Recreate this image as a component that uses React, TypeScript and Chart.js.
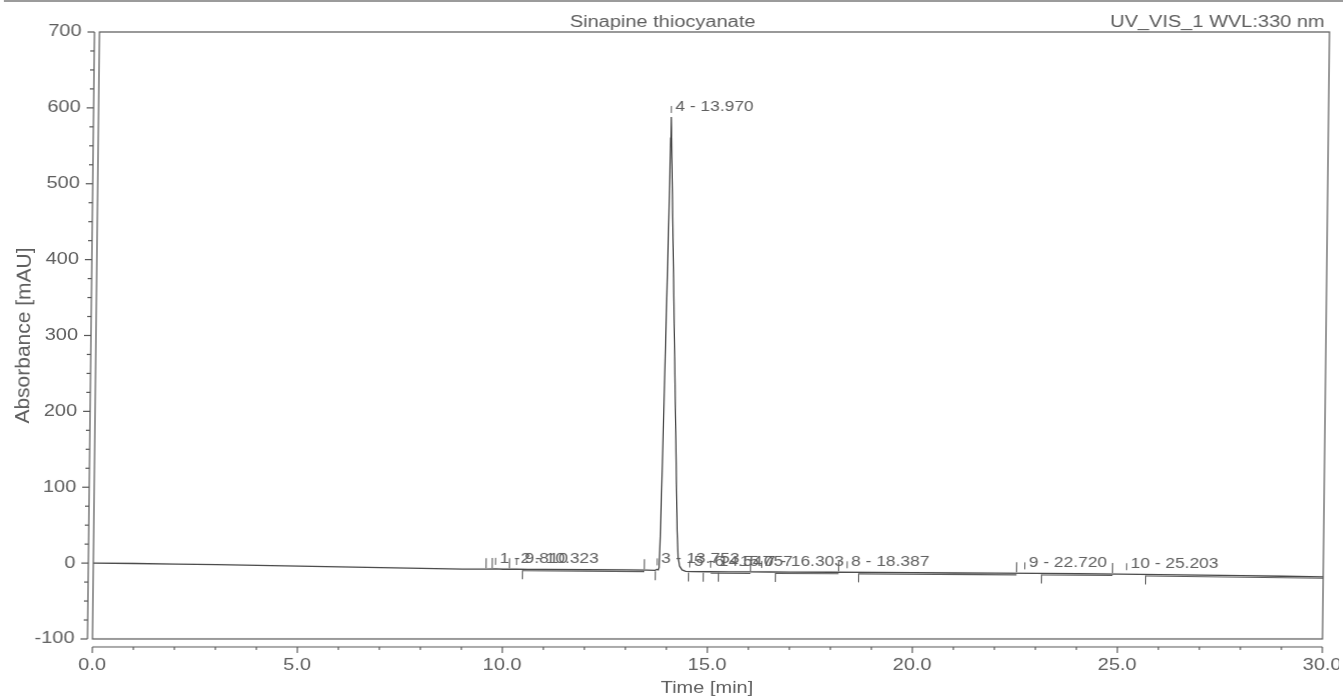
import React, { useEffect, useRef } from "react";
import { Chart, registerables } from "chart.js";

Chart.register(...registerables);

// ---- data ----
const traceTimes = [
  0, 1, 2, 3, 4, 5, 6, 7, 8, 9, 9.6, 9.81, 10.0, 10.323, 10.6, 11, 12, 13, 13.5,
  13.7, 13.75, 13.78, 13.8, 13.82, 13.85, 13.88, 13.91, 13.94, 13.96, 13.97, 13.98,
  14.0, 14.04, 14.08, 14.12, 14.16, 14.2, 14.23, 14.26, 14.3, 14.36, 14.45, 14.6,
  15, 15.5, 16, 16.5, 17, 18, 19, 20, 21, 22, 23, 24, 25, 26, 27, 28, 29, 30,
];
const traceValues = [
  0, -0.5, -1.2, -2.1, -3, -4, -5, -6, -7, -7.8, -8, -7.6, -8.1, -7.8, -8.3, -8.4, -8.7, -9.0, -9.3,
  -9.5, -8.2, -8.8, -6, 35, 130, 235, 345, 460, 560, 588, 572,
  527, 442, 357, 272, 188, 104, 42, 8, -4, -9, -10.8, -11.2,
  -11.4, -11.5, -11.6, -11.7, -11.8, -12, -12.3, -12.6, -13, -13.3, -13.6, -14, -14.5, -15.2, -15.9, -16.6, -17.3, -18,
];
const peakNumbers = [1, 2, 3, 4, 5, 6, 7, 8, 9, 10];
const peakTimes = [9.81, 10.323, 13.753, 13.97, 14.547, 15.057, 16.303, 18.387, 22.72, 25.203];
const delimiterUp = [9.58, 9.73, 10.15, 13.44, 16.03, 18.18, 22.52, 24.86];
const delimiterDown = [10.47, 13.71, 14.52, 14.88, 15.25, 16.64, 18.67, 23.13, 25.67];
const baselineStart = [10.47, 15.06, 16.64, 18.67, 23.13, 25.67];
const baselineEnd = [13.44, 16.03, 18.18, 22.52, 24.86, 30];

const xMin = 0, xMax = 30, xStep = 5, xMinorStep = 1;
const yMin = -100, yMax = 700, yStep = 100, yMinorStep = 25;

const chartTitle = "Sinapine thiocyanate";
const channelLabel = "UV_VIS_1 WVL:330 nm";
const xTitle = "Time [min]";
const yTitle = "Absorbance [mAU]";

// ---- styling ----
const W = 1343, H = 698;
const INK = "#575757";
const TEXT = "#5e5e5e";
const FONT = "'Liberation Sans', Arial, Helvetica, sans-serif";
const STRETCH = 1.25;

function traceAt(t: number): number {
  if (t <= traceTimes[0]) return traceValues[0];
  for (let i = 1; i < traceTimes.length; i++) {
    if (t <= traceTimes[i]) {
      const t0 = traceTimes[i - 1], t1 = traceTimes[i];
      const f = (t - t0) / (t1 - t0);
      return traceValues[i - 1] + f * (traceValues[i] - traceValues[i - 1]);
    }
  }
  return traceValues[traceValues.length - 1];
}

function sText(ctx: CanvasRenderingContext2D, s: string, x: number, y: number, align: CanvasTextAlign, sx: number) {
  ctx.save();
  ctx.translate(x, y);
  ctx.scale(sx, 1);
  ctx.textAlign = align;
  ctx.fillText(s, 0, 0);
  ctx.restore();
}

function seg(ctx: CanvasRenderingContext2D, x1: number, y1: number, x2: number, y2: number) {
  ctx.beginPath();
  ctx.moveTo(x1, y1);
  ctx.lineTo(x2, y2);
  ctx.stroke();
}

const decor = {
  id: "chromDecor",
  afterDatasetsDraw(chart: any) {
    const ctx: CanvasRenderingContext2D = chart.ctx;
    const a = chart.chartArea;
    const xs = chart.scales.x;
    const ys = chart.scales.y;
    ctx.save();
    ctx.lineCap = "butt";

    // frame line at very top
    ctx.strokeStyle = "#7a7a7a";
    ctx.lineWidth = 1.5;
    seg(ctx, 0, 1, W, 1);

    // plot box
    ctx.strokeStyle = INK;
    ctx.lineWidth = 1.2;
    ctx.strokeRect(a.left, a.top, a.right - a.left, a.bottom - a.top);

    // y axis (offset to the left of the box)
    const yAxisX = a.left - 5;
    seg(ctx, yAxisX, a.top, yAxisX, a.bottom);
    for (let v = yMin; v <= yMax + 1e-9; v += yMinorStep) {
      const py = ys.getPixelForValue(v);
      const major = Math.abs(v % yStep) < 1e-9;
      seg(ctx, yAxisX - (major ? 7 : 4), py, yAxisX, py);
    }
    ctx.fillStyle = TEXT;
    ctx.font = `16px ${FONT}`;
    ctx.textBaseline = "middle";
    ys.ticks.forEach((tk: any) => {
      const py = ys.getPixelForValue(tk.value);
      sText(ctx, String(tk.value), yAxisX - 13, py, "right", STRETCH);
    });

    // x axis (offset below the box)
    const xAxisY = a.bottom + 8;
    seg(ctx, a.left, xAxisY, a.right, xAxisY);
    for (let v = xMin; v <= xMax + 1e-9; v += xMinorStep) {
      const px = xs.getPixelForValue(v);
      const major = Math.abs(v % xStep) < 1e-9;
      seg(ctx, px, xAxisY, px, xAxisY + (major ? 6 : 3));
    }
    ctx.textBaseline = "alphabetic";
    xs.ticks.forEach((tk: any) => {
      const px = xs.getPixelForValue(tk.value);
      sText(ctx, Number(tk.value).toFixed(1), px, xAxisY + 23, "center", STRETCH);
    });

    // integration baselines and delimiters
    ctx.save();
    ctx.beginPath();
    ctx.rect(a.left, a.top, a.right - a.left, a.bottom - a.top);
    ctx.clip();
    ctx.strokeStyle = INK;
    ctx.lineWidth = 1.1;
    baselineStart.forEach((s, i) => {
      const e = baselineEnd[i];
      seg(ctx, xs.getPixelForValue(s), ys.getPixelForValue(traceAt(s)) + 1.5,
        xs.getPixelForValue(e), ys.getPixelForValue(traceAt(e)) + 1.5);
    });
    delimiterDown.forEach((t) => {
      const px = xs.getPixelForValue(t);
      const py = ys.getPixelForValue(traceAt(t));
      seg(ctx, px, py + 1, px, py + 10);
    });
    delimiterUp.forEach((t) => {
      const px = xs.getPixelForValue(t);
      const py = ys.getPixelForValue(traceAt(t));
      seg(ctx, px, py - 1, px, py - 11);
    });
    ctx.restore();

    // peak labels
    ctx.fillStyle = TEXT;
    ctx.strokeStyle = INK;
    ctx.lineWidth = 1;
    ctx.font = `14px ${FONT}`;
    ctx.textBaseline = "alphabetic";
    peakTimes.forEach((t, i) => {
      const px = xs.getPixelForValue(t);
      const py = ys.getPixelForValue(traceAt(t));
      seg(ctx, px, py - 4, px, py - 11);
      sText(ctx, `${peakNumbers[i]} - ${t.toFixed(3)}`, px + 4, py - 6, "left", 1.24);
    });

    // titles
    ctx.font = `16px ${FONT}`;
    ctx.fillStyle = TEXT;
    sText(ctx, chartTitle, 659, 27, "center", STRETCH);
    sText(ctx, channelLabel, 1321, 27, "right", STRETCH);
    sText(ctx, xTitle, (a.left + a.right) / 2, 693, "center", STRETCH);

    ctx.save();
    ctx.font = `21px ${FONT}`;
    ctx.translate(30, (a.top + a.bottom) / 2);
    ctx.rotate(-Math.PI / 2);
    ctx.textAlign = "center";
    ctx.fillText(yTitle, 0, 0);
    ctx.restore();

    ctx.restore();
  },
};

export default function App() {
  const ref = useRef<HTMLCanvasElement | null>(null);

  useEffect(() => {
    const canvas = ref.current;
    if (!canvas) return;
    const chart = new Chart(canvas, {
      type: "line",
      data: {
        datasets: [
          {
            data: traceTimes.map((t, i) => ({ x: t, y: traceValues[i] })),
            borderColor: "#474747",
            borderWidth: 1.3,
            pointRadius: 0,
            tension: 0,
            fill: false,
          },
        ],
      },
      options: {
        animation: false,
        responsive: false,
        events: [],
        layout: { padding: { left: 0, right: W - 1326, top: 32, bottom: 0 } },
        plugins: {
          legend: { display: false },
          tooltip: { enabled: false },
          title: { display: false },
        },
        scales: {
          x: {
            type: "linear",
            min: xMin,
            max: xMax,
            ticks: { display: false, stepSize: xStep },
            grid: { display: false },
            border: { display: false },
            afterFit: (s: any) => { s.height = H - 639; },
          },
          y: {
            type: "linear",
            min: yMin,
            max: yMax,
            ticks: { display: false, stepSize: yStep },
            grid: { display: false },
            border: { display: false },
            afterFit: (s: any) => { s.width = 96; },
          },
        },
      } as any,
      plugins: [decor as any],
    });
    return () => chart.destroy();
  }, []);

  return (
    <div style={{ position: "fixed", left: 0, top: 0, width: W, height: H, background: "#fff", overflow: "hidden" }}>
      <canvas
        ref={ref}
        width={W}
        height={H}
        style={{ width: W, height: H, display: "block", transform: "skewX(-0.662deg)", transformOrigin: "0px 335px" }}
      />
    </div>
  );
}
